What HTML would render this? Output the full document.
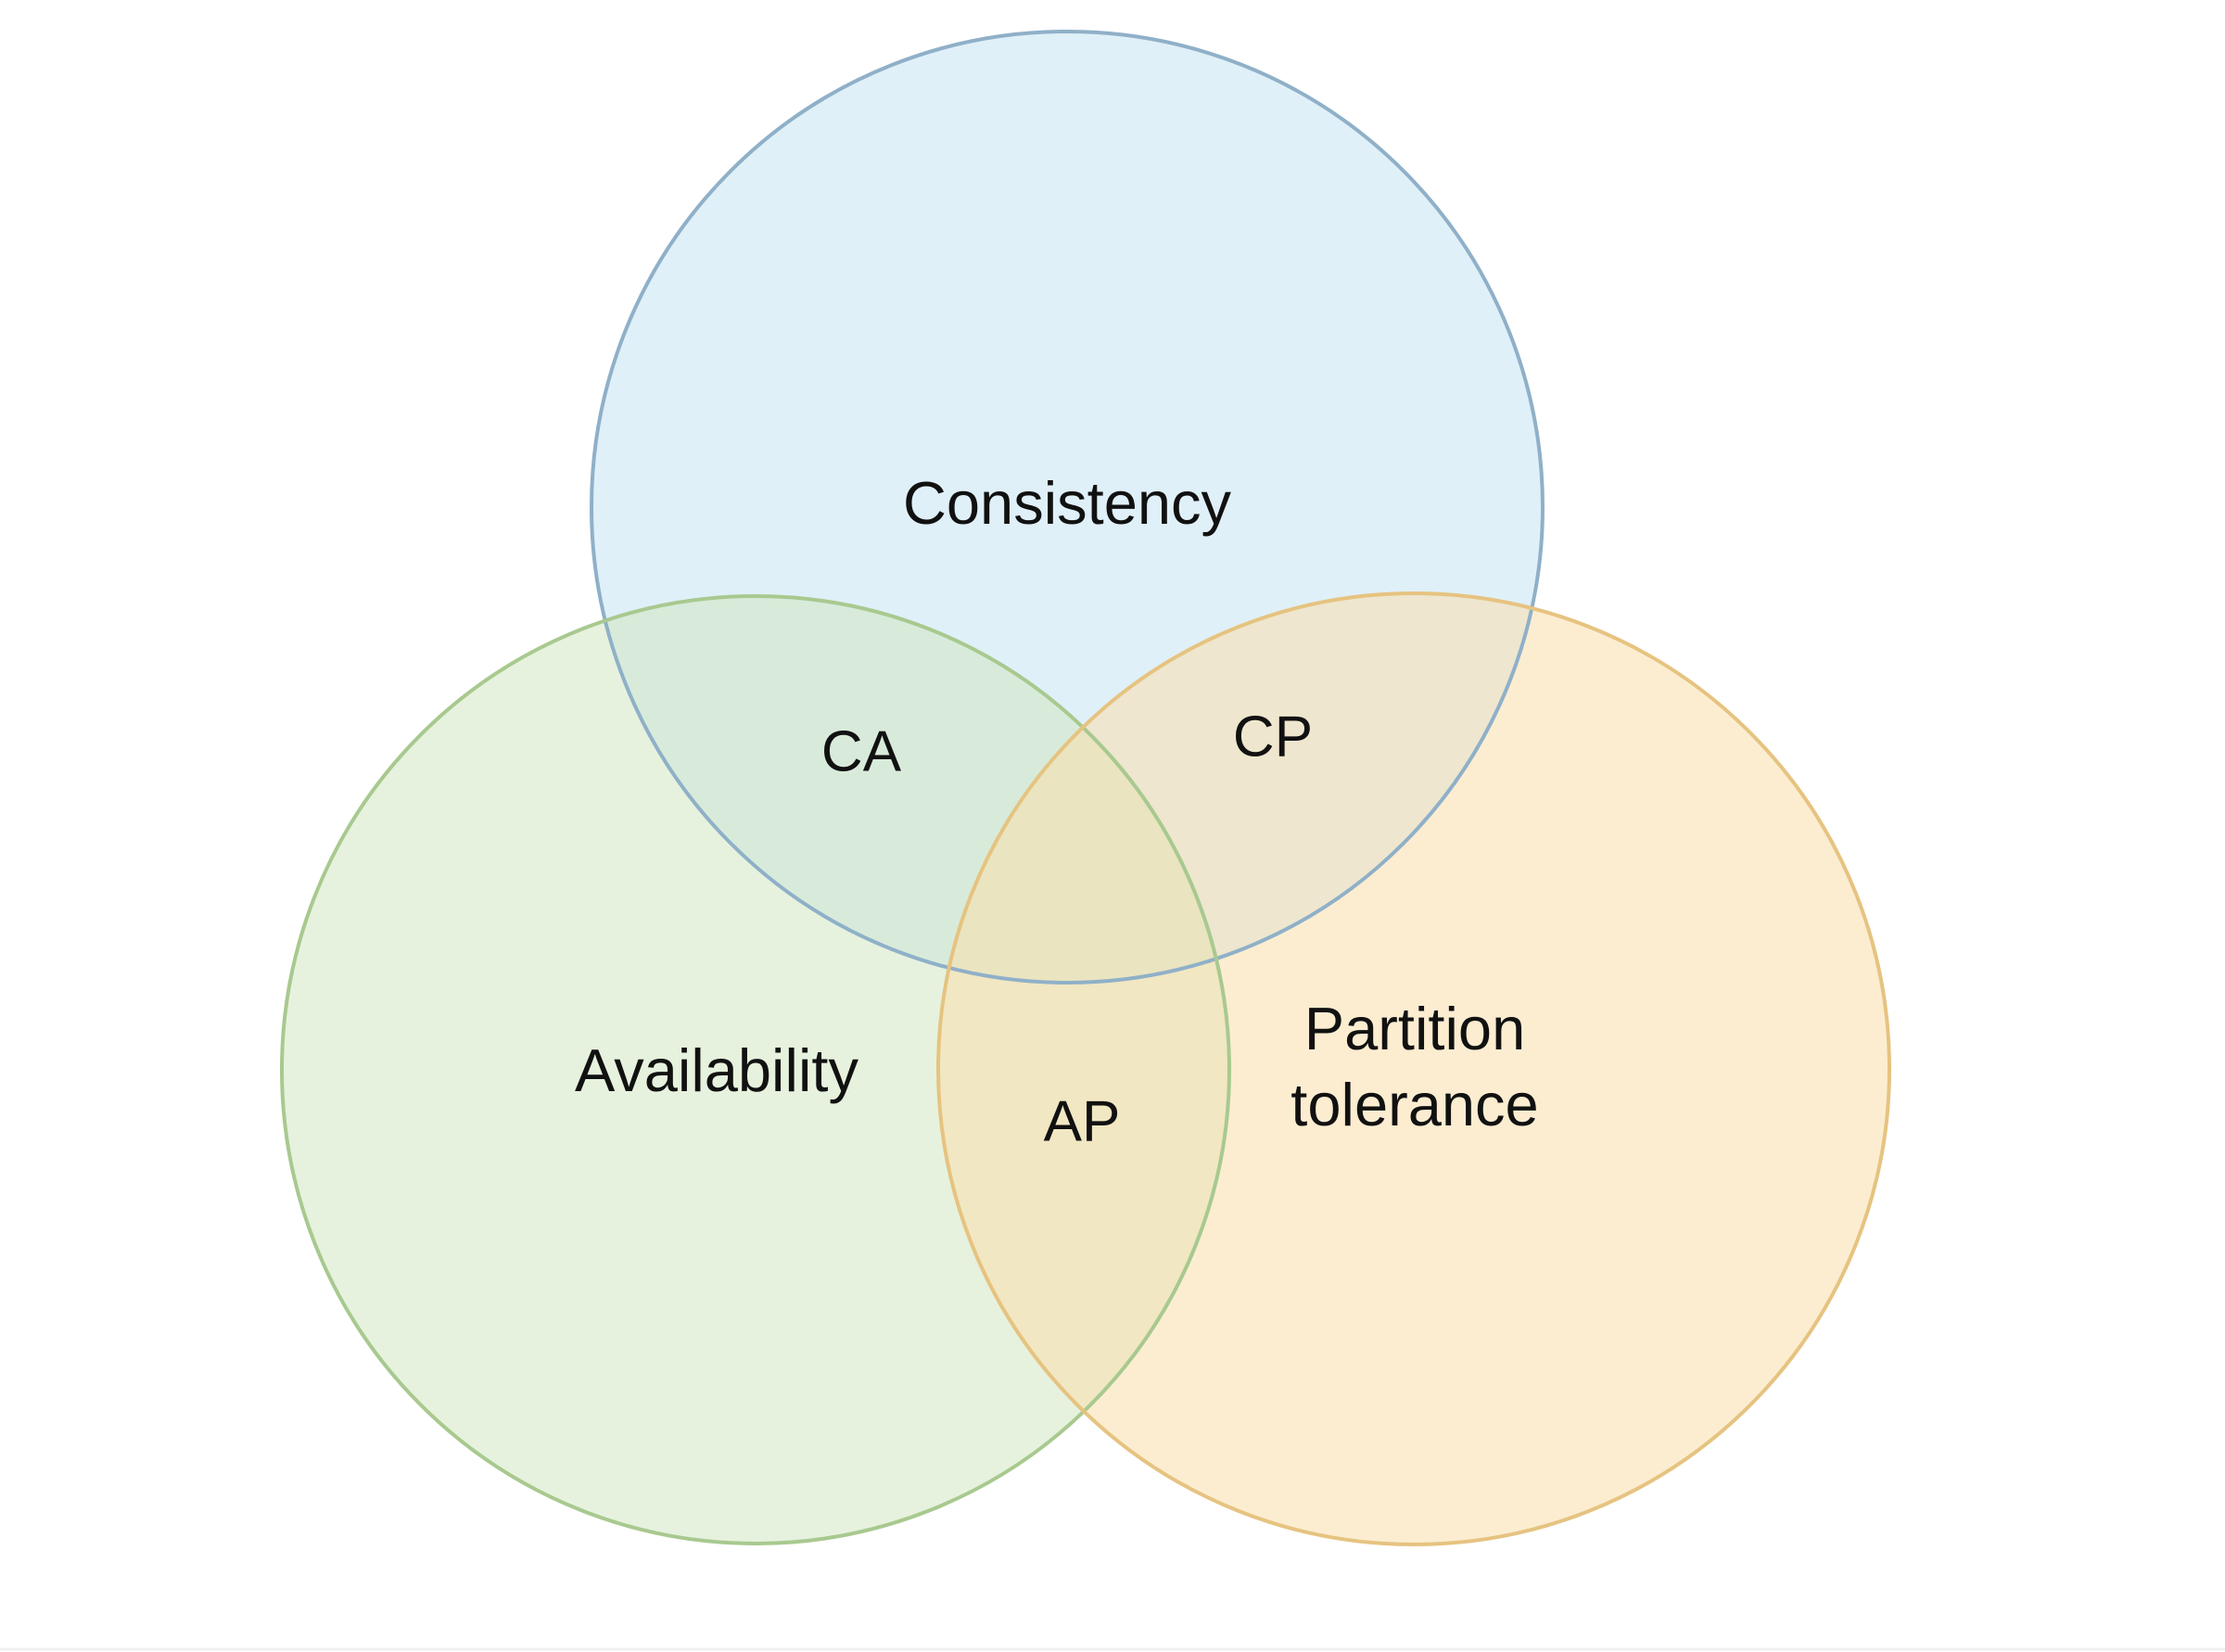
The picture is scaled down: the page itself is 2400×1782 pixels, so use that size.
<!DOCTYPE html>
<html><head><meta charset="utf-8"><style>
html,body{margin:0;padding:0;background:#fff;}
svg{display:block;}
text{font-family:"Liberation Sans",sans-serif;fill:#111;text-anchor:middle;dominant-baseline:middle;}
</style></head><body>
<svg width="2400" height="1782" viewBox="0 0 2400 1782" xmlns="http://www.w3.org/2000/svg">
<rect width="2400" height="1782" fill="#fff"/>
<g fill-opacity="0.55">
<circle cx="1151" cy="547" r="513" fill="#c7e3f3"/>
<circle cx="815" cy="1154" r="511" fill="#d2e7c1"/>
<circle cx="1525" cy="1153" r="513" fill="#f9deac"/>
</g>
<g fill="none" stroke-width="4">
<circle cx="1151" cy="547" r="513" stroke="#8fb0c8"/>
<circle cx="815" cy="1154" r="511" stroke="#a8c98f"/>
<circle cx="1525" cy="1153" r="513" stroke="#e6c380"/>
</g>
<text x="1151" y="548" font-size="65">Consistency</text>
<text x="929" y="815" font-size="62">CA</text>
<text x="1373" y="799" font-size="62">CP</text>
<text x="773" y="1160" font-size="65">Availability</text>
<text x="1167" y="1214" font-size="62">AP</text>
<text x="1526" y="1115" font-size="65">Partition</text>
<text x="1526" y="1197" font-size="65">tolerance</text>
<line x1="0" y1="1779" x2="2400" y2="1779" stroke="#f0f0f0" stroke-width="3"/>
</svg>
</body></html>
